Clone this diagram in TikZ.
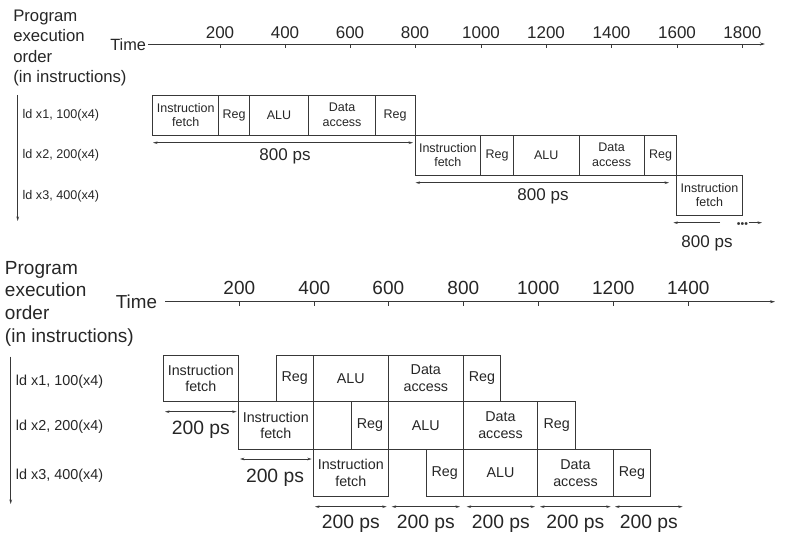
\documentclass[tikz,border=0pt]{standalone}
\usepackage{fontspec}
\setmainfont{Liberation Sans}
\usetikzlibrary{arrows.meta}
\newcommand\stg[7]{\node[stagebox,#6,minimum width={(#3-#2)*1pt},minimum height={(#5-#4)*1pt}] (#1) at (#2,#4) {#7};}
\begin{document}
\begin{tikzpicture}[x=1pt,y=-1pt,
 stagebox/.style={draw=black!78, line width=0.9pt, inner sep=0pt, outer sep=0pt, anchor=north west, align=center, text=black!85},
 topf/.style={font=\fontsize{12.5}{14.6}\selectfont},
 botf/.style={font=\fontsize{14.3}{16.6}\selectfont},
 axisline/.style={draw=black!78, line width=0.9pt, -{Stealth[length=5pt,width=3pt]}},
 tickline/.style={draw=black!78, line width=0.9pt},
 dimline/.style={draw=black!78, line width=0.7pt, {Stealth[length=4.5pt,width=2.6pt]}-{Stealth[length=4.5pt,width=2.6pt]}},
 oneway/.style={draw=black!78, line width=0.7pt, -{Stealth[length=4.5pt,width=2.6pt]}},
 orderline/.style={draw=black!78, line width=0.9pt, -{Stealth[length=4.5pt,width=2.6pt]}},
 lbl/.style={text=black!85, inner sep=0pt, outer sep=0pt},
]
\useasboundingbox (0,0) rectangle (799,537);

%================ TOP (non-pipelined) =================
\node[lbl, anchor=north west, align=left, font=\fontsize{16.7}{20.3}\selectfont] (tprog) at (13.3,10) {Program\\execution\\order\\(in instructions)};
\node[lbl, anchor=east, font=\fontsize{16.3}{18}\selectfont] (ttime) at (146,44.5) {Time};
\coordinate (tax0) at (148,44);
\coordinate (tax1) at (765,44);
\draw[axisline] (tax0) -- (tax1);
\foreach \xx/\lab [count=\i] in {220/200,285/400,350/600,415/800,481/1000,546/1200,611.5/1400,677/1600,742.3/1800}{
  \coordinate (ttk\i) at (\xx,44);
  \coordinate (ttkb\i) at (\xx,48);
  \draw[tickline] (ttk\i) -- (ttkb\i);
  \node[lbl, font=\fontsize{17}{20}\selectfont] (ttl\i) at (\xx,32.7) {\lab};
}
% order arrow
\coordinate (tord0) at (17.7,95);
\coordinate (tord1) at (17.7,221);
\draw[orderline] (tord0) -- (tord1);
\node[lbl, anchor=west, font=\fontsize{12.6}{15}\selectfont] (tld1) at (22.7,115) {ld x1, 100(x4)};
\node[lbl, anchor=west, font=\fontsize{12.6}{15}\selectfont] (tld2) at (22.7,155.5) {ld x2, 200(x4)};
\node[lbl, anchor=west, font=\fontsize{12.6}{15}\selectfont] (tld3) at (22.7,196.3) {ld x3, 400(x4)};
% row 1
\stg{a1}{152.7}{218.7}{95}{135}{topf}{Instruction\\fetch}
\stg{a2}{218.7}{249.3}{95}{135}{topf}{Reg}
\stg{a3}{249.3}{308.7}{95}{135}{topf}{ALU}
\stg{a4}{308.7}{375.3}{95}{135}{topf}{Data\\access}
\stg{a5}{375.3}{415}{95}{135}{topf}{Reg}
% row 2
\stg{b1}{415}{480.7}{135}{175}{topf}{Instruction\\fetch}
\stg{b2}{480.7}{513.3}{135}{175}{topf}{Reg}
\stg{b3}{513.3}{579}{135}{175}{topf}{ALU}
\stg{b4}{579}{644.3}{135}{175}{topf}{Data\\access}
\stg{b5}{644.3}{676.7}{135}{175}{topf}{Reg}
% row 3
\stg{c1}{676.7}{742.3}{175}{215}{topf}{Instruction\\fetch}
% dimension arrows
\coordinate (td1a) at (153,142.7); \coordinate (td1b) at (413,142.7);
\draw[dimline] (td1a) -- (td1b);
\node[lbl, font=\fontsize{17}{20}\selectfont] (tdl1) at (285,156.5) {800 ps};
\coordinate (td2a) at (415.5,182.7); \coordinate (td2b) at (669,182.7);
\draw[dimline] (td2a) -- (td2b);
\node[lbl, font=\fontsize{17}{20}\selectfont] (tdl2) at (543,196.7) {800 ps};
\coordinate (td3a) at (673.3,222.7); \coordinate (td3b) at (720,222.7);
\draw[oneway] (td3b) -- (td3a);
\node[lbl, font=\fontsize{10.5}{11}\selectfont, text=black!80, inner xsep=0pt] (tdots) at (742.5,224.6) {•••};
\coordinate (td3d) at (748.5,222.7);
\coordinate (td3c) at (762,222.7);
\draw[oneway] (td3d) -- (td3c);
\node[lbl, font=\fontsize{17}{20}\selectfont] (tdl3) at (707,243) {800 ps};

%================ BOTTOM (pipelined) =================
\node[lbl, anchor=north west, align=left, font=\fontsize{19}{22.8}\selectfont] (bprog) at (5,261) {Program\\execution\\order\\(in instructions)};
\node[lbl, anchor=east, font=\fontsize{18.8}{22}\selectfont] (btime) at (157,302) {Time};
\coordinate (bax0) at (165,301.7);
\coordinate (bax1) at (775,301.7);
\draw[axisline] (bax0) -- (bax1);
\foreach \xx/\lab [count=\i] in {239.3/200,314.3/400,388.3/600,463.3/800,538.3/1000,613.3/1200,688.3/1400}{
  \coordinate (btk\i) at (\xx,301.7);
  \coordinate (btkb\i) at (\xx,306);
  \draw[tickline] (btk\i) -- (btkb\i);
  \node[lbl, font=\fontsize{19}{22}\selectfont] (btl\i) at (\xx,287.5) {\lab};
}
\coordinate (bord0) at (10.7,356.7);
\coordinate (bord1) at (10.7,504);
\draw[orderline] (bord0) -- (bord1);
\node[lbl, anchor=west, font=\fontsize{14.4}{17}\selectfont] (bld1) at (16,381.7) {ld x1, 100(x4)};
\node[lbl, anchor=west, font=\fontsize{14.4}{17}\selectfont] (bld2) at (16,426.7) {ld x2, 200(x4)};
\node[lbl, anchor=west, font=\fontsize{14.4}{17}\selectfont] (bld3) at (16,476) {ld x3, 400(x4)};
% row 1
\stg{p1}{163.3}{238.3}{355}{401.7}{botf}{Instruction\\fetch}
\stg{p2}{276}{313.3}{355}{401.7}{botf}{Reg}
\stg{p3}{313.3}{388.3}{355}{401.7}{botf}{ALU}
\stg{p4}{388.3}{463.3}{355}{401.7}{botf}{Data\\access}
\stg{p5}{463.3}{500.7}{355}{401.7}{botf}{Reg}
% row 2
\stg{q1}{238.3}{313.3}{401.7}{449}{botf}{Instruction\\fetch}
\stg{q0}{313.3}{351.7}{401.7}{449}{botf}{}
\stg{q2}{351.7}{388.3}{401.7}{449}{botf}{Reg}
\stg{q3}{388.3}{463.3}{401.7}{449}{botf}{ALU}
\stg{q4}{463.3}{537.7}{401.7}{449}{botf}{Data\\access}
\stg{q5}{537.7}{575.7}{401.7}{449}{botf}{Reg}
% row 3
\stg{r1}{313.3}{388.3}{449}{496.7}{botf}{Instruction\\fetch}
\stg{r2}{426}{463.3}{449}{496.7}{botf}{Reg}
\stg{r3}{463.3}{537.7}{449}{496.7}{botf}{ALU}
\stg{r4}{537.7}{613.3}{449}{496.7}{botf}{Data\\access}
\stg{r5}{613.3}{650.7}{449}{496.7}{botf}{Reg}
% dimension arrows
\coordinate (bd1a) at (165,411.7); \coordinate (bd1b) at (236.7,411.7);
\draw[dimline] (bd1a) -- (bd1b);
\node[lbl, font=\fontsize{19.3}{22}\selectfont] (bdl1) at (200.8,430) {200 ps};
\coordinate (bd2a) at (240,459); \coordinate (bd2b) at (311.7,459);
\draw[dimline] (bd2a) -- (bd2b);
\node[lbl, font=\fontsize{19.3}{22}\selectfont] (bdl2) at (275,477.3) {200 ps};
\foreach \xa/\xb [count=\i] in {315/386.7,391.7/460,466.7/535,540/610.7,615/682.7}{
  \coordinate (be\i a) at (\xa,506.7);
  \coordinate (be\i b) at (\xb,506.7);
  \draw[dimline] (be\i a) -- (be\i b);
  \node[lbl, font=\fontsize{19.3}{22}\selectfont] (bel\i) at ({(\xa+\xb)/2},523.5) {200 ps};
}
\end{tikzpicture}
\end{document}
